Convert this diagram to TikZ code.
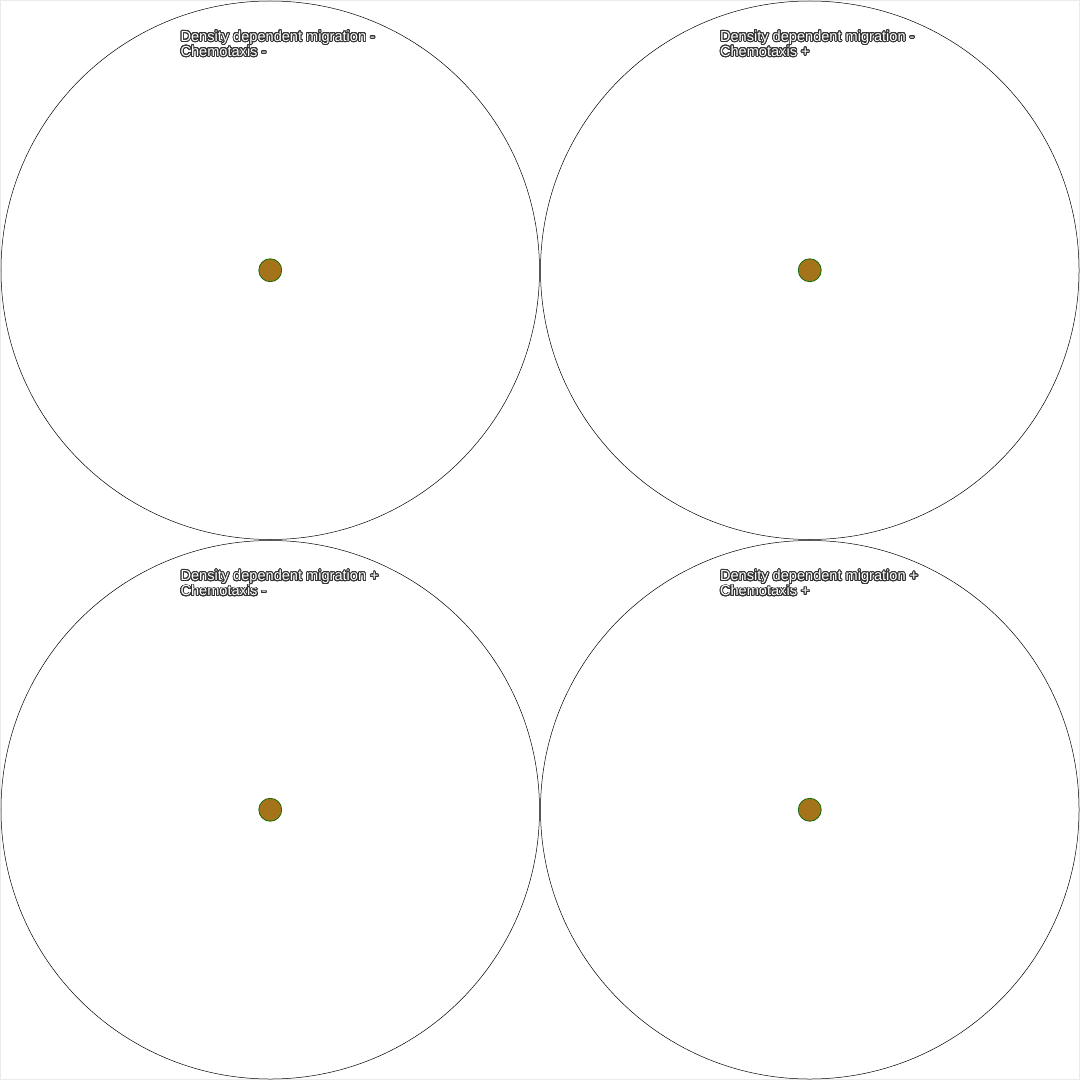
\documentclass[tikz,border=0pt]{standalone}
\usepackage{fontspec}
\setmainfont{Liberation Sans}
\usepackage{contour}
\contourlength{0.9pt}
\contournumber{24}
\begin{document}
\begin{tikzpicture}[x=1pt,y=-1pt,
  arena/.style={draw=black,line width=0.5pt},
  cellpop/.style={circle,draw=black!60!green,line width=0.7pt,fill={rgb,255:red,165;green,115;blue,25},minimum size=23pt,inner sep=0pt},
  lbl/.style={anchor=north west,align=left,inner sep=0pt,font=\fontsize{14.6}{15.2}\selectfont}]
\path[draw=black!8,line width=1pt,fill=white] (0,0) rectangle (1080,1080);
\useasboundingbox (0,0) rectangle (1080,1080);
\foreach \cx/\cy/\nm/\a/\b in {270/270/A/-/-, 810/270/B/-/+, 270/810/C/+/-, 810/810/D/+/+}{
  \draw[arena] (\cx,\cy) circle[radius=269.5];
  \node[cellpop] (pop\nm) at (\cx,\cy) {};
  \node[lbl] (lab\nm) at (\cx-90,\cy-240) {\contour{black!80}{\textcolor{white}{Density dependent migration \a}}\\\contour{black!80}{\textcolor{white}{Chemotaxis \b}}};
}
\end{tikzpicture}
\end{document}
